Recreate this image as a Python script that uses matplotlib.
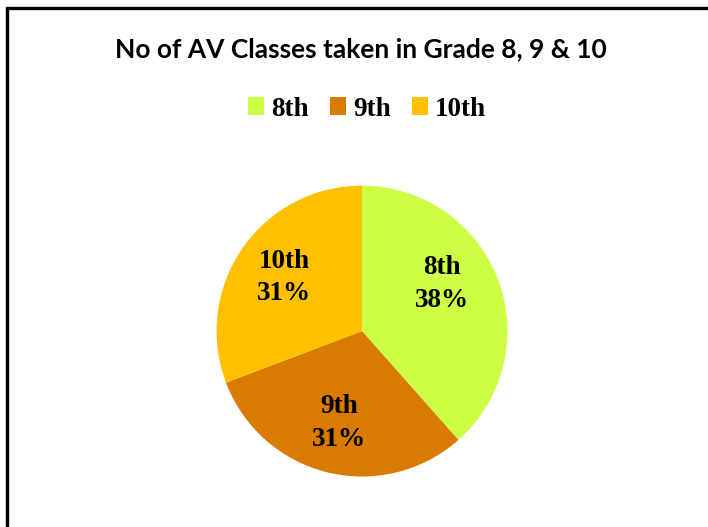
import matplotlib.pyplot as plt
from matplotlib.patches import Rectangle, Patch

grades = ['8th', '9th', '10th']
classes = [5, 4, 4]
colors = ['#CCFF44', '#D97B00', '#FFC000']

fig = plt.figure(figsize=(7.08, 5.27), dpi=100)

# border of the chart area (runs off the right and bottom edges)
fig.patches.append(Rectangle((7 / 708, -0.2), 1.2, 0.985 + 0.2, transform=fig.transFigure,
                             fill=False, edgecolor='black', linewidth=2.4, clip_on=False))

fig.text(0.51, 1 - 57 / 527, 'No of AV Classes taken in Grade 8, 9 & 10',
         ha='center', va='baseline', fontsize=19, fontweight='bold', family='Lato')

ax = fig.add_axes([0.3058, 0.0958, 0.411, 0.552])

lab_iter = iter(grades)
wedges, _, autotexts = ax.pie(classes, colors=colors, startangle=90, counterclock=False,
                              radius=1, autopct=lambda p: f"{next(lab_iter)}\n{p:.0f}%",
                              pctdistance=0.65, wedgeprops=dict(linewidth=0),
                              textprops=dict(fontsize=19.5, fontweight='bold',
                                             family='Liberation Serif', linespacing=1.4))
# Excel's best-fit placement puts the first label a bit higher
autotexts[0].set_position((0.55, 0.325))
ax.set_xlim(-1, 1)
ax.set_ylim(-1, 1)
ax.set_aspect('equal')

handles = [Patch(facecolor=c, edgecolor='none') for c in colors]
fig.legend(handles, grades, loc='center', bbox_to_anchor=(367 / 708, 1 - 109 / 527), ncol=3,
           frameon=False, handlelength=0.6, handleheight=0.6, handletextpad=0.25,
           columnspacing=0.8, prop=dict(family='Liberation Serif', weight='bold', size=19.5))

fig.savefig('out.png', dpi=100)
